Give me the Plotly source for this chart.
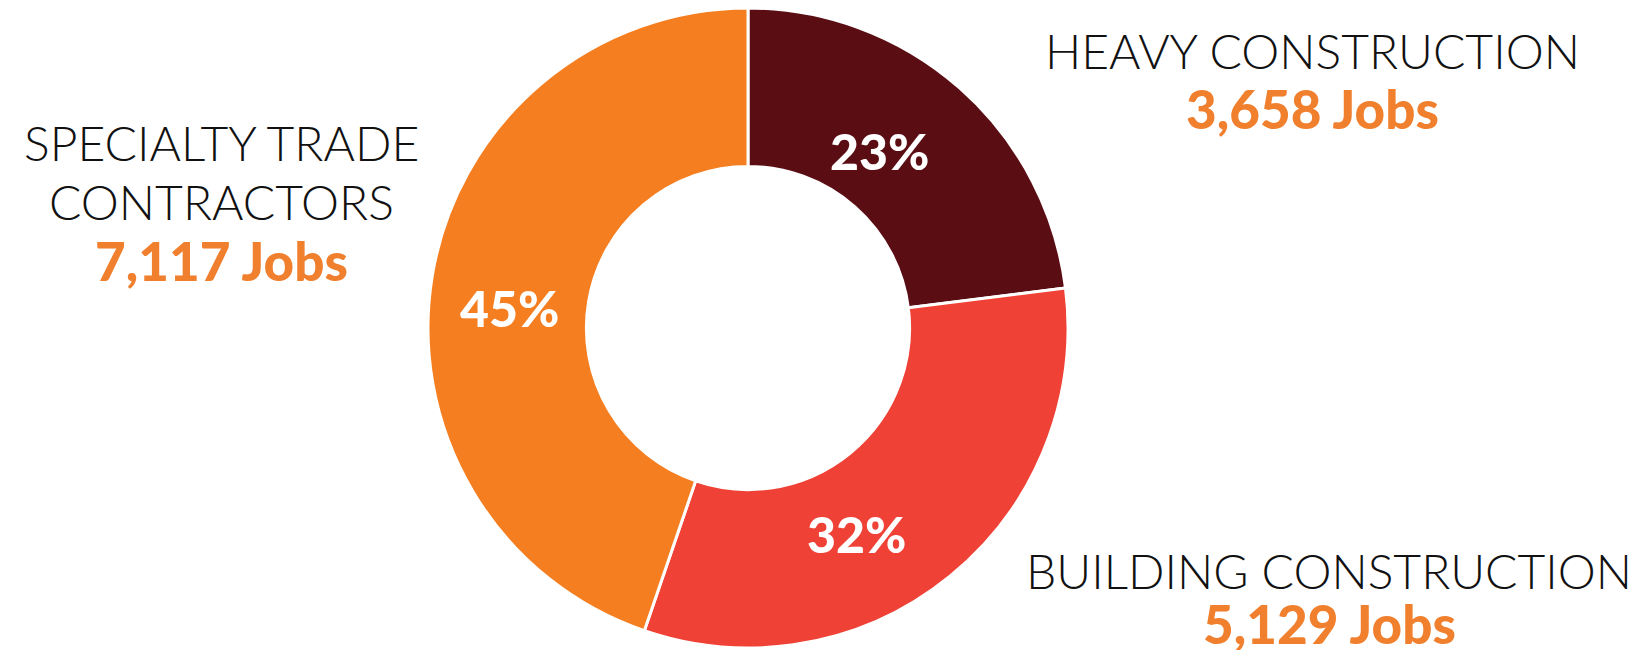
import plotly.graph_objects as go

categories = ["HEAVY CONSTRUCTION", "BUILDING CONSTRUCTION", "SPECIALTY TRADE<br>CONTRACTORS"]
jobs = [3658, 5129, 7117]
colors = ["#5A0E14", "#EF4135", "#F47E20"]

OFF = 8  # default page body margin
W, H = 1647 - OFF, 650 - OFF
cx, cy, R = 748 - OFF, 328 - OFF, 320

fig = go.Figure(go.Pie(
    labels=categories,
    values=jobs,
    sort=False,
    direction="clockwise",
    rotation=0,
    hole=0.505,
    marker=dict(colors=colors, line=dict(color="white", width=3)),
    textinfo="none",
    domain=dict(x=[(cx - R) / W, (cx + R) / W], y=[max(0, (H - cy - R) / H), min(1, (H - cy + R) / H)]),
    showlegend=False,
    hoverinfo="label+value+percent",
))

total = sum(jobs)
# percentage label centers in page pixels
pct_pos = [(879, 151), (856, 534), (509, 308)]
for n, (px, py) in zip(jobs, pct_pos):
    fig.add_annotation(x=(px - OFF) / W, y=1 - (py - OFF) / H, xref="paper", yref="paper",
                       text=f"{round(100 * n / total)}%", showarrow=False, xanchor="center", yanchor="middle",
                       font=dict(family="Lato", size=50, color="white", weight=900))

# label positions in page pixels: (x center, y center of name line, y center of jobs line)
label_pos = [(1312, 50, 108), (1329, 570, 623), (221, 143, 260)]
line_h = 58
for name, n, (lx, ly, jy) in zip(categories, jobs, label_pos):
    lines = name.split("<br>")
    for i, ln in enumerate(lines):
        fig.add_annotation(x=(lx - OFF) / W, y=1 - (ly - OFF + i * line_h) / H, xref="paper", yref="paper",
                           text=ln, showarrow=False, xanchor="center", yanchor="middle",
                           font=dict(family="Lato", size=48, color="#111111", weight=300))
    fig.add_annotation(x=(lx - OFF) / W, y=1 - (jy - OFF) / H, xref="paper", yref="paper",
                       text=f"{n:,} Jobs", showarrow=False, xanchor="center", yanchor="middle",
                       font=dict(family="Lato", size=53, color="#F07F2E", weight=900))

fig.update_layout(width=W, height=H, margin=dict(l=0, r=0, t=0, b=0),
                  paper_bgcolor="white", plot_bgcolor="white")
fig.write_html("out.html")
